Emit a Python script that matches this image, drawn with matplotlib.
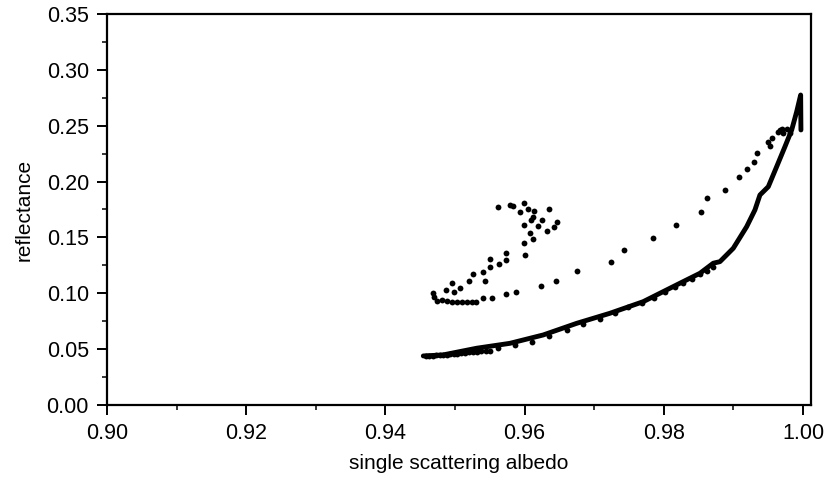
import matplotlib
matplotlib.use("Agg")
from matplotlib import pyplot as plt
from matplotlib.ticker import MultipleLocator

# solid curve (model)
line_albedo = [0.94545, 0.94828, 0.95312, 0.95790, 0.96269, 0.96749, 0.97227,
               0.97705, 0.97945, 0.98233, 0.98520, 0.98711, 0.98807, 0.98999,
               0.99191, 0.99310, 0.99382, 0.99502, 0.99622, 0.99741, 0.99838,
               0.99910, 0.99967, 0.99971]
line_refl = [0.0439, 0.0448, 0.0508, 0.0552, 0.0627, 0.0731, 0.0821,
             0.0925, 0.1000, 0.1090, 0.1179, 0.1269, 0.1283, 0.1403,
             0.1596, 0.1746, 0.1880, 0.1954, 0.2133, 0.2312, 0.2462,
             0.2626, 0.2775, 0.2462]

# dots lying along the curve
low_albedo = [0.9458, 0.9463, 0.9468, 0.9473, 0.9478, 0.9483, 0.9488, 0.9493,
              0.9498, 0.9503, 0.9508, 0.9514, 0.9520, 0.9526, 0.9532, 0.9538,
              0.9544, 0.95503, 0.95622, 0.95862, 0.96102, 0.96355, 0.96605,
              0.96843, 0.97083, 0.97299, 0.97490, 0.97691, 0.97864, 0.98022,
              0.98161, 0.98280, 0.98401, 0.98520, 0.98616, 0.98703]
low_refl = [0.0440, 0.0441, 0.0442, 0.0444, 0.0446, 0.0448, 0.0450, 0.0453,
            0.0456, 0.0459, 0.0462, 0.0466, 0.0470, 0.0474, 0.0478, 0.0482,
            0.0486, 0.0486, 0.0508, 0.0537, 0.0567, 0.0618, 0.0671,
            0.0722, 0.0770, 0.0821, 0.0875, 0.0911, 0.0955, 0.1009,
            0.1054, 0.1090, 0.1131, 0.1173, 0.1202, 0.1233]

# upper scattered dots
up_albedo = [0.95613, 0.95790, 0.95829, 0.95996, 0.95934, 0.96045, 0.96135,
             0.96346, 0.96125, 0.96088, 0.96254, 0.96466, 0.95996, 0.96193,
             0.96422, 0.96318, 0.96078, 0.96116, 0.95996, 0.96010, 0.95737,
             0.95507, 0.95728, 0.95636, 0.95503, 0.95407, 0.95259, 0.95197,
             0.95435, 0.94953, 0.95072, 0.94981, 0.94866, 0.94680, 0.94703,
             0.94737, 0.94809, 0.94881, 0.94953, 0.95024, 0.95096, 0.95168,
             0.95240, 0.95302, 0.95398, 0.95527, 0.95728, 0.95876, 0.96231,
             0.96456, 0.96753, 0.97237, 0.97424, 0.97845, 0.98180, 0.98530,
             0.98625, 0.98875, 0.99076, 0.99195, 0.99300, 0.99343, 0.99497,
             0.99526, 0.99555, 0.99645, 0.99694, 0.99766, 0.99813, 0.99670,
             0.99718]
up_refl = [0.1770, 0.1791, 0.1782, 0.1811, 0.1728, 0.1752, 0.1737,
           0.1752, 0.1680, 0.1656, 0.1656, 0.1641, 0.1611, 0.1603,
           0.1591, 0.1560, 0.1537, 0.1486, 0.1448, 0.1346, 0.1361,
           0.1310, 0.1301, 0.1262, 0.1233, 0.1188, 0.1170, 0.1110,
           0.1110, 0.1090, 0.1045, 0.1014, 0.1027, 0.1000, 0.0970,
           0.0934, 0.0940, 0.0931, 0.0925, 0.0922, 0.0919, 0.0919,
           0.0922, 0.0919, 0.0958, 0.0958, 0.0996, 0.1009, 0.1065,
           0.1110, 0.1202, 0.1280, 0.1390, 0.1498, 0.1611, 0.1731,
           0.1850, 0.1922, 0.2041, 0.2110, 0.2178, 0.2259, 0.2355,
           0.2321, 0.2390, 0.2447, 0.2471, 0.2468, 0.2432, 0.2462,
           0.2432]

plt.rcParams['font.family'] = ['Liberation Sans', 'DejaVu Sans']

fig = plt.figure(figsize=(8.28, 4.86), dpi=100)
ax = fig.add_axes([0.1292, 0.1667, 0.8498, 0.8045])

ax.plot(line_albedo, line_refl, '-', color='black', lw=3.5, solid_capstyle='round')
ax.plot(low_albedo, low_refl, 'o', color='black', ms=4.2, mew=0)
ax.plot(up_albedo, up_refl, 'o', color='black', ms=4.2, mew=0)

ax.set_xlim(0.90, 1.0011)
ax.set_ylim(0.0, 0.35)
ax.xaxis.set_major_locator(MultipleLocator(0.02))
ax.xaxis.set_minor_locator(MultipleLocator(0.01))
ax.yaxis.set_major_locator(MultipleLocator(0.05))
ax.yaxis.set_minor_locator(MultipleLocator(0.025))
ax.xaxis.set_major_formatter(plt.FormatStrFormatter('%.2f'))
ax.yaxis.set_major_formatter(plt.FormatStrFormatter('%.2f'))

ax.tick_params(which='major', direction='out', length=7, width=1.4, labelsize=15.5, pad=6)
ax.tick_params(which='minor', direction='out', length=3.5, width=1.1)
for s in ax.spines.values():
    s.set_linewidth(1.6)

ax.set_xlabel('single scattering albedo', fontsize=15, labelpad=7)
ax.set_ylabel('reflectance', fontsize=15, labelpad=9)

plt.savefig('out.png', dpi=100)
